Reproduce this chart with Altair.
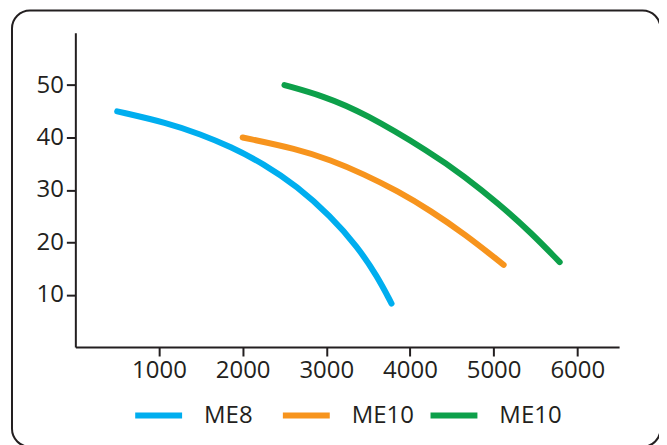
import altair as alt
import pandas as pd

# ---- data ----
series_keys = ["ME8", "ME10a", "ME10b"]
series_labels = ["ME8", "ME10", "ME10"]
series_colors = ["#00AEEF", "#F7941D", "#0DA04A"]

me8_flow = [500, 1100, 1500, 1850, 2250, 2650, 3050, 3370, 3610, 3780]
me8_head = [45.0, 42.8, 40.6, 38.3, 35.0, 30.7, 25.0, 19.2, 13.5, 8.3]

me10a_flow = [2000, 2650, 3050, 3450, 3850, 4250, 4650, 5120]
me10a_head = [40.0, 37.8, 35.7, 33.0, 29.8, 26.0, 21.6, 15.7]

me10b_flow = [2500, 2970, 3450, 4250, 4650, 5050, 5450, 5790]
me10b_head = [50.0, 47.9, 44.7, 37.1, 32.6, 27.5, 21.8, 16.2]

x_ticks = [1000, 2000, 3000, 4000, 5000, 6000]
y_ticks = [10, 20, 30, 40, 50]

rows = []
for key, fl, hd in [("ME8", me8_flow, me8_head),
                    ("ME10a", me10a_flow, me10a_head),
                    ("ME10b", me10b_flow, me10b_head)]:
    for i, (f, h) in enumerate(zip(fl, hd)):
        rows.append({"series": key, "flow": f, "head": h, "order": i})
df = pd.DataFrame(rows)

label_expr = " : ".join(
    [f"datum.value == '{k}' ? '{l}'" for k, l in zip(series_keys, series_labels)]
) + " : datum.value"

FONT = "Open Sans"
INK = "#231F20"

lines = alt.Chart(df).mark_line(
    strokeWidth=6, strokeCap="round", interpolate="basis"
).encode(
    x=alt.X("flow:Q", scale=alt.Scale(domain=[0, 6500], nice=False, zero=False),
            axis=alt.Axis(values=x_ticks, format="d", title=None, grid=False,
                          labelFlush=False)),
    y=alt.Y("head:Q", scale=alt.Scale(domain=[0, 60], nice=False),
            axis=alt.Axis(values=y_ticks, format="d", title=None, grid=False)),
    color=alt.Color("series:N",
                    scale=alt.Scale(domain=series_keys, range=series_colors),
                    legend=alt.Legend(title=None, orient="none", direction="horizontal",
                                      legendX=57, legendY=357, padding=0,
                                      gridAlign="all",
                                      symbolType="stroke", symbolSize=2209,
                                      symbolStrokeWidth=6, labelExpr=label_expr,
                                      labelOffset=19, columnPadding=4)),
    order="order:Q",
)

frame = alt.Chart(alt.Data(values=[{}])).mark_rect(
    filled=False, stroke=INK, strokeWidth=2, cornerRadius=18
).encode(
    x=alt.value(-63.5), x2=alt.value(586.5), y=alt.value(-22.3), y2=alt.value(415)
)

chart = alt.layer(frame, lines).properties(
    width=545, height=315,
    padding={"left": 67.5, "top": 24.3, "right": 40, "bottom": 97.7},
    autosize=alt.AutoSizeParams(type="none"),
).configure_view(stroke=None).configure_axis(
    domainColor=INK, domainWidth=2, tickColor=INK, tickWidth=2, tickSize=9,
    labelFont=FONT, labelFontSize=24, labelColor=INK, labelPadding=3,
).configure_legend(
    labelFont=FONT, labelFontSize=24, labelColor=INK, symbolStrokeColor=INK,
)

chart.save("out.html", embed_options={"renderer": "svg", "actions": False})
